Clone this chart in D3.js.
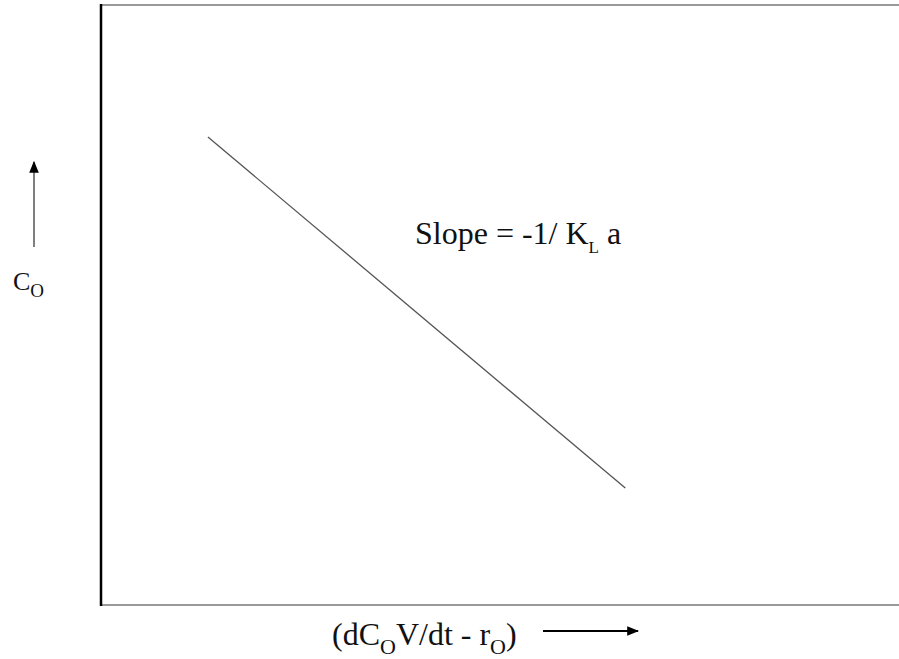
<!DOCTYPE html>
<html><head><meta charset="utf-8">
<script src="https://cdn.jsdelivr.net/npm/d3@7"></script>
<style>body{margin:0;background:#fff}svg{display:block}</style>
</head><body>
<script>
const lineX = [1.34, 6.57];
const lineY = [7.8, 1.95];
const xDomain = [0, 10];
const yDomain = [0, 10];

const W = 899, H = 659;
const svg = d3.select("body").append("svg").attr("width", W).attr("height", H);
const x = d3.scaleLinear().domain(xDomain).range([101, 899]);
const y = d3.scaleLinear().domain(yDomain).range([605, 5]);

svg.append("line").attr("x1", x(0)).attr("x2", x(10)).attr("y1", y(10)).attr("y2", y(10))
  .attr("stroke", "#999").attr("stroke-width", 2);
svg.append("line").attr("x1", x(0)).attr("x2", x(10)).attr("y1", y(0)).attr("y2", y(0))
  .attr("stroke", "#999").attr("stroke-width", 2);
svg.append("line").attr("x1", x(0)).attr("x2", x(0)).attr("y1", y(10) - 1).attr("y2", y(0) + 1)
  .attr("stroke", "#000").attr("stroke-width", 2.5);

const pts = lineX.map((v, i) => [v, lineY[i]]);
svg.append("path").attr("d", d3.line().x(d => x(d[0])).y(d => y(d[1]))(pts))
  .attr("fill", "none").attr("stroke", "#555").attr("stroke-width", 1.3);

const font = "'Liberation Serif', 'Times New Roman', serif";
const FS = 32, SS = 22;

const t = svg.append("text").attr("x", 415).attr("y", 244)
  .attr("font-family", font).attr("font-size", FS).attr("fill", "#111");
t.append("tspan").text("Slope = -1/ K");
t.append("tspan").attr("font-size", SS - 5).attr("dy", 9).text("L");
t.append("tspan").attr("dy", -9).text(" a");

const yl = svg.append("text").attr("x", 13).attr("y", 290)
  .attr("font-family", font).attr("font-size", 26).attr("fill", "#111");
yl.append("tspan").text("C");
yl.append("tspan").attr("font-size", 19).attr("dy", 7).text("O");

const xl = svg.append("text").attr("x", 332).attr("y", 645)
  .attr("font-family", font).attr("font-size", FS).attr("fill", "#111");
xl.append("tspan").text("(dC");
xl.append("tspan").attr("font-size", SS).attr("dy", 9).text("O");
xl.append("tspan").attr("dy", -9).text("V/dt - r");
xl.append("tspan").attr("font-size", SS).attr("dy", 9).text("O");
xl.append("tspan").attr("dy", -9).text(")");

const defs = svg.append("defs");
defs.append("marker").attr("id", "ah").attr("viewBox", "0 0 10 10").attr("refX", 9).attr("refY", 5)
  .attr("markerWidth", 12).attr("markerHeight", 12).attr("markerUnits", "userSpaceOnUse").attr("orient", "auto")
  .append("path").attr("d", "M0,1 L10,5 L0,9 Z").attr("fill", "#000");
svg.append("line").attr("x1", 34).attr("x2", 34).attr("y1", 247).attr("y2", 162)
  .attr("stroke", "#555").attr("stroke-width", 1.5).attr("marker-end", "url(#ah)");
svg.append("line").attr("x1", 543).attr("x2", 638).attr("y1", 631).attr("y2", 631)
  .attr("stroke", "#000").attr("stroke-width", 1.8).attr("marker-end", "url(#ah)");
</script>
</body></html>
